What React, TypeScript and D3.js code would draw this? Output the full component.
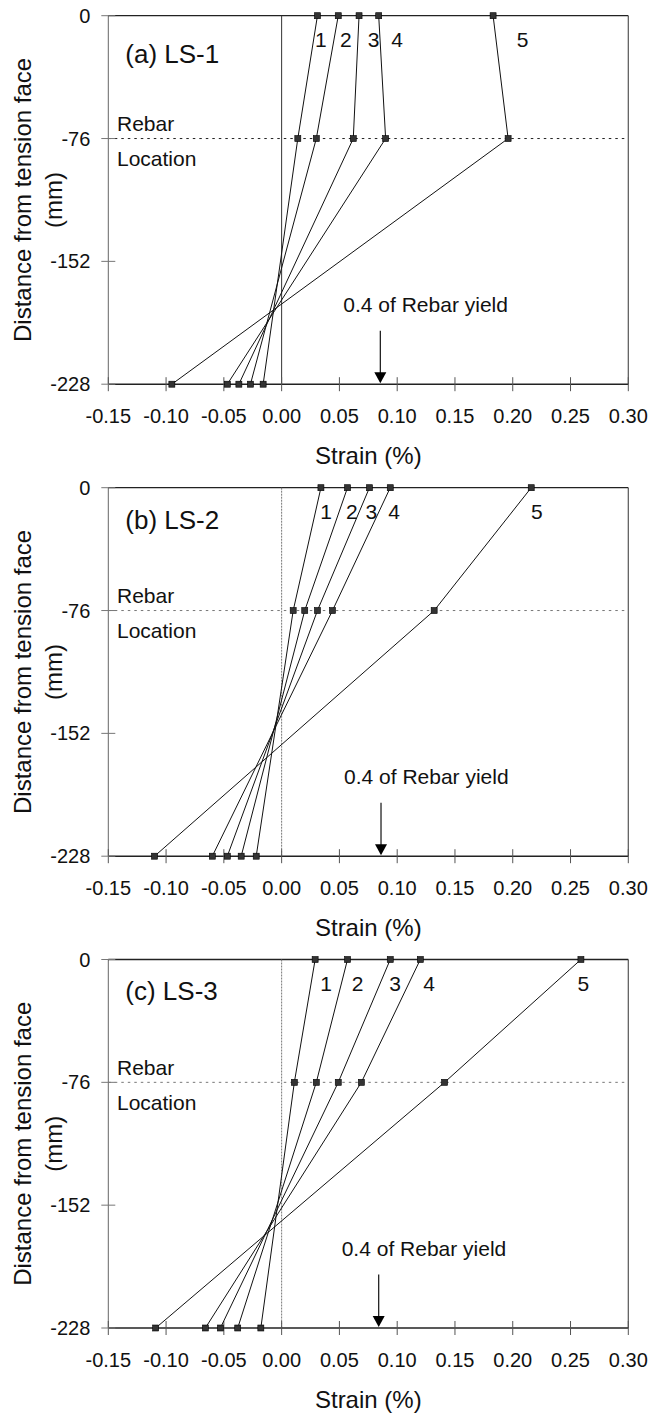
import React from "react";
import * as d3 from "d3";

const strainTicks = [-0.15, -0.1, -0.05, 0.0, 0.05, 0.1, 0.15, 0.2, 0.25, 0.3];
const depthTicks = [0, -76, -152, -228];
const depths = [0, -76, -228];
const seriesLabels = ["1", "2", "3", "4", "5"];
const panelTitles = ["(a) LS-1", "(b) LS-2", "(c) LS-3"];

// strain (%) at depth 0, -76, -228 for load stages 1..5
const ls1 = [
  [0.031, 0.014, -0.016],
  [0.049, 0.030, -0.027],
  [0.067, 0.062, -0.037],
  [0.084, 0.090, -0.047],
  [0.183, 0.196, -0.095],
];
const ls2 = [
  [0.034, 0.010, -0.022],
  [0.057, 0.020, -0.035],
  [0.076, 0.031, -0.047],
  [0.094, 0.044, -0.060],
  [0.216, 0.132, -0.110],
];
const ls3 = [
  [0.029, 0.011, -0.018],
  [0.057, 0.030, -0.038],
  [0.094, 0.049, -0.053],
  [0.120, 0.069, -0.066],
  [0.259, 0.141, -0.109],
];
// x positions (strain units) of the stage number labels
const labelX1 = [0.034, 0.0556, 0.0795, 0.1, 0.2085];
const labelX2 = [0.0384, 0.0607, 0.0776, 0.0973, 0.2208];
const labelX3 = [0.0384, 0.0657, 0.0981, 0.1276, 0.2611];
const yieldMarks = [0.0854, 0.086, 0.084];

const panels = [
  { title: panelTitles[0], data: ls1, labels: labelX1, yieldAt: yieldMarks[0] },
  { title: panelTitles[1], data: ls2, labels: labelX2, yieldAt: yieldMarks[1] },
  { title: panelTitles[2], data: ls3, labels: labelX3, yieldAt: yieldMarks[2] },
];

const FONT = "'Liberation Sans', Arial, Helvetica, sans-serif";
const X0 = 108.3;
const X1 = 628.3;
const PH = 368.5;
const tops = [15.7, 487.7, 959.5];
const titleOffsets = [47.6, 41.6, 40.5];

function Panel({ p, top, idx }: { p: any; top: number; idx: number }) {
  const x = d3.scaleLinear().domain([-0.15, 0.3]).range([X0, X1]);
  const y = d3.scaleLinear().domain([-228, 0]).range([top + PH, top]);
  const line = d3
    .line<[number, number]>()
    .x((d) => x(d[0]))
    .y((d) => y(d[1]));
  const bottom = y(-228);
  const yr = y(-76);
  const f2 = d3.format(".2f");
  const fmt = (v: number) => f2(v).replace("\u2212", "-");
  const faint = idx > 0;
  return (
    <g>
      {/* frame */}
      <line x1={X0} x2={X0} y1={top} y2={bottom} stroke="#666" strokeWidth={1} />
      <line x1={X1} x2={X1} y1={top} y2={bottom} stroke="#555" strokeWidth={1.2} />
      <line x1={X0} x2={X1} y1={top} y2={top} stroke="#222" strokeWidth={1.3} />
      {/* zero line */}
      <line
        x1={x(0)}
        x2={x(0)}
        y1={top}
        y2={bottom}
        stroke={faint ? "#777" : "#333"}
        strokeWidth={1}
        strokeDasharray={faint ? "2,1" : undefined}
      />
      {/* rebar line */}
      <line
        x1={X0}
        x2={X1}
        y1={yr}
        y2={yr}
        stroke={faint ? "#777" : "#222"}
        strokeWidth={1}
        strokeDasharray="2.5,4"
      />
      {/* x axis */}
      <line x1={X0} x2={X1} y1={bottom} y2={bottom} stroke="#222" strokeWidth={1.5} />
      {strainTicks.map((t) => (
        <g key={t}>
          <line x1={x(t)} x2={x(t)} y1={bottom - 7} y2={bottom + 7} stroke="#555" strokeWidth={1} />
          <text
            x={x(t)}
            y={bottom + 39}
            textAnchor="middle"
            fontSize={20}
            fontFamily={FONT}
            fill="#111"
          >
            {fmt(t)}
          </text>
        </g>
      ))}
      {/* y axis ticks */}
      {depthTicks.map((t) => (
        <g key={t}>
          <line x1={X0 - 7} x2={X0 + 7} y1={y(t)} y2={y(t)} stroke="#777" strokeWidth={1} />
          <text
            x={X0 - 18}
            y={y(t)}
            dy="0.35em"
            textAnchor="end"
            fontSize={20}
            fontFamily={FONT}
            fill="#111"
          >
            {String(t)}
          </text>
        </g>
      ))}
      {/* series */}
      {p.data.map((s: number[], i: number) => {
        const pts: [number, number][] = s.map((v, j) => [v, depths[j]]);
        return (
          <g key={i}>
            <path d={line(pts) || ""} fill="none" stroke="#111" strokeWidth={1} />
            {pts.map((d, j) => (
              <rect
                key={j}
                x={x(d[0]) - 3}
                y={y(d[1]) - 3}
                width={6}
                height={6}
                fill="#333"
                stroke="#000"
                strokeWidth={0.6}
              />
            ))}
            <text
              x={x(p.labels[i])}
              y={top + 31}
              textAnchor="middle"
              fontSize={21}
              fontFamily={FONT}
              fill="#111"
            >
              {seriesLabels[i]}
            </text>
          </g>
        );
      })}
      {/* title */}
      <text x={X0 + 17} y={top + titleOffsets[idx]} fontSize={26} fontFamily={FONT} fill="#111">
        {p.title}
      </text>
      <text x={117} y={yr - 7.5} fontSize={21} fontFamily={FONT} fill="#111">
        Rebar
      </text>
      <text x={117} y={yr + 27.5} fontSize={21} fontFamily={FONT} fill="#111">
        Location
      </text>
      {/* yield annotation */}
      <text x={x(p.yieldAt) - 37} y={bottom - 72} fontSize={21} fontFamily={FONT} fill="#111">
        0.4 of Rebar yield
      </text>
      <line
        x1={x(p.yieldAt)}
        x2={x(p.yieldAt)}
        y1={bottom - 53.5}
        y2={bottom - 10}
        stroke="#111"
        strokeWidth={1.2}
      />
      <path
        d={`M${x(p.yieldAt) - 6},${bottom - 12} L${x(p.yieldAt) + 6},${bottom - 12} L${x(p.yieldAt)},${bottom - 1} Z`}
        fill="#000"
      />
      {/* axis titles */}
      <text
        x={(X0 + X1) / 2}
        y={bottom + 80}
        textAnchor="middle"
        fontSize={24}
        fontFamily={FONT}
        fill="#111"
      >
        Strain (%)
      </text>
      <text
        transform={`translate(22,${(top + bottom) / 2}) rotate(-90)`}
        textAnchor="middle"
        dominantBaseline="central"
        fontSize={24}
        fontFamily={FONT}
        fill="#111"
      >
        Distance from tension face
      </text>
      <text
        transform={`translate(53,${(top + bottom) / 2}) rotate(-90)`}
        textAnchor="middle"
        dominantBaseline="central"
        fontSize={24}
        fontFamily={FONT}
        fill="#111"
      >
        (mm)
      </text>
    </g>
  );
}

export default function App() {
  return (
    <svg
      width={652}
      height={1414}
      style={{ position: "absolute", left: 0, top: 0, background: "#fff" }}
    >
      <rect x={0} y={0} width={652} height={1414} fill="#fff" />
      {panels.map((p, i) => (
        <Panel key={i} p={p} top={tops[i]} idx={i} />
      ))}
    </svg>
  );
}
